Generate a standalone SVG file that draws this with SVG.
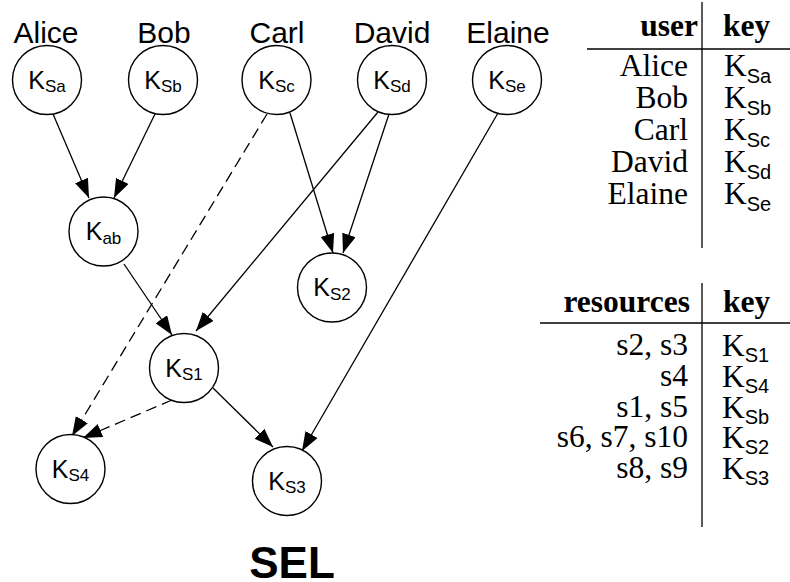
<svg xmlns="http://www.w3.org/2000/svg" width="790" height="582" viewBox="0 0 790 582">
  <style>
    .node circle { fill: #fff; stroke: #000; stroke-width: 1.4; }
    .nk { font-family: "Liberation Sans", Arial, sans-serif; font-size: 25px; text-anchor: middle; fill: #000; }
    .nk .sub { font-size: 17px; }
    .name { font-family: "Liberation Sans", Arial, sans-serif; font-size: 30px; text-anchor: middle; fill: #000; }
    .edge { stroke: #000; stroke-width: 1.3; fill: none; marker-end: url(#arrow); }
    .dash { stroke-dasharray: 11 6; }
    .th { font-family: "Liberation Serif", "Times New Roman", serif; font-size: 31.5px; font-weight: bold; fill: #000; }
    .td { font-family: "Liberation Serif", "Times New Roman", serif; font-size: 31.5px; fill: #000; }
    .td .sub { font-family: "Liberation Sans", Arial, sans-serif; font-size: 20px; }
    .r { text-anchor: end; }
    .rule { stroke: #000; stroke-width: 1.3; }
    .title { font-family: "Liberation Sans", Arial, sans-serif; font-size: 44px; font-weight: bold; text-anchor: middle; fill: #000; }
  </style>
  <defs>
    <marker id="arrow" markerUnits="userSpaceOnUse" markerWidth="20" markerHeight="15" refX="19" refY="7" orient="auto">
      <path d="M0,0 L19,7 L0,14 z" fill="#000"/>
    </marker>
  </defs>

  <!-- user names -->
  <g id="names">
    <text class="name" x="46" y="43">Alice</text>
    <text class="name" x="164" y="43">Bob</text>
    <text class="name" x="277" y="43">Carl</text>
    <text class="name" x="392" y="43">David</text>
    <text class="name" x="508" y="43">Elaine</text>
  </g>

  <!-- connectors -->
  <g id="edges">
    <line class="edge" x1="53" y1="114" x2="89" y2="198"/>
    <line class="edge" x1="155" y1="114" x2="114" y2="198"/>
    <line class="edge dash" x1="267" y1="114" x2="72" y2="436"/>
    <line class="edge" x1="290" y1="113" x2="333" y2="253"/>
    <line class="edge" x1="389" y1="114" x2="343" y2="253"/>
    <line class="edge" x1="378" y1="112" x2="196" y2="331"/>
    <line class="edge" x1="498" y1="113" x2="302" y2="451"/>
    <line class="edge" x1="124" y1="264" x2="172" y2="335"/>
    <line class="edge" x1="213" y1="388" x2="273" y2="447"/>
    <line class="edge dash" x1="172" y1="400" x2="83" y2="438"/>
  </g>

  <!-- key nodes -->
  <g id="KSa" class="node"><circle cx="47" cy="80" r="34.5"/><text class="nk" x="47" y="88.5">K<tspan class="sub" dy="3.5">Sa</tspan></text></g>
  <g id="KSb" class="node"><circle cx="163" cy="80" r="34.5"/><text class="nk" x="163" y="88.5">K<tspan class="sub" dy="3.5">Sb</tspan></text></g>
  <g id="KSc" class="node"><circle cx="276.5" cy="80" r="34.5"/><text class="nk" x="276.5" y="88.5">K<tspan class="sub" dy="3.5">Sc</tspan></text></g>
  <g id="KSd" class="node"><circle cx="392" cy="80" r="34.5"/><text class="nk" x="392" y="88.5">K<tspan class="sub" dy="3.5">Sd</tspan></text></g>
  <g id="KSe" class="node"><circle cx="507" cy="80" r="34.5"/><text class="nk" x="507" y="88.5">K<tspan class="sub" dy="3.5">Se</tspan></text></g>
  <g id="Kab" class="node"><circle cx="103.5" cy="231.5" r="34.5"/><text class="nk" x="103.5" y="240">K<tspan class="sub" dy="3.5">ab</tspan></text></g>
  <g id="KS2" class="node"><circle cx="332" cy="287.5" r="34.5"/><text class="nk" x="332" y="296">K<tspan class="sub" dy="3.5">S2</tspan></text></g>
  <g id="KS1" class="node"><circle cx="184" cy="368" r="34.5"/><text class="nk" x="184" y="376.5">K<tspan class="sub" dy="3.5">S1</tspan></text></g>
  <g id="KS4" class="node"><circle cx="70.5" cy="469" r="34.5"/><text class="nk" x="70.5" y="477.5">K<tspan class="sub" dy="3.5">S4</tspan></text></g>
  <g id="KS3" class="node"><circle cx="287" cy="481" r="34.5"/><text class="nk" x="287" y="489.5">K<tspan class="sub" dy="3.5">S3</tspan></text></g>

  <!-- user / key table -->
  <g id="user-table">
    <line class="rule" x1="702" y1="2" x2="702" y2="248"/>
    <line class="rule" x1="587" y1="49" x2="790" y2="49"/>
    <text class="th r" x="698" y="36">user</text>
    <text class="th" x="723" y="36">key</text>
    <text class="td r" x="688" y="76">Alice</text>
    <text class="td r" x="688" y="108">Bob</text>
    <text class="td r" x="688" y="140">Carl</text>
    <text class="td r" x="688" y="172">David</text>
    <text class="td r" x="688" y="204">Elaine</text>
    <text class="td" x="724" y="76">K<tspan class="sub" dy="7">Sa</tspan></text>
    <text class="td" x="724" y="108">K<tspan class="sub" dy="7">Sb</tspan></text>
    <text class="td" x="724" y="140">K<tspan class="sub" dy="7">Sc</tspan></text>
    <text class="td" x="724" y="172">K<tspan class="sub" dy="7">Sd</tspan></text>
    <text class="td" x="724" y="204">K<tspan class="sub" dy="7">Se</tspan></text>
  </g>

  <!-- resources / key table -->
  <g id="resource-table">
    <line class="rule" x1="702" y1="283" x2="702" y2="527"/>
    <line class="rule" x1="540" y1="323" x2="790" y2="323"/>
    <text class="th r" x="690" y="312">resources</text>
    <text class="th" x="723" y="312">key</text>
    <text class="td r" x="688" y="355">s2, s3</text>
    <text class="td r" x="688" y="386">s4</text>
    <text class="td r" x="688" y="417">s1, s5</text>
    <text class="td r" x="688" y="447">s6, s7, s10</text>
    <text class="td r" x="688" y="478">s8, s9</text>
    <text class="td" x="722" y="356">K<tspan class="sub" dy="6">S1</tspan></text>
    <text class="td" x="722" y="387">K<tspan class="sub" dy="6">S4</tspan></text>
    <text class="td" x="722" y="418">K<tspan class="sub" dy="6">Sb</tspan></text>
    <text class="td" x="722" y="448">K<tspan class="sub" dy="6">S2</tspan></text>
    <text class="td" x="722" y="479">K<tspan class="sub" dy="6">S3</tspan></text>
  </g>

  <text id="title" class="title" x="292" y="578">SEL</text>
</svg>
